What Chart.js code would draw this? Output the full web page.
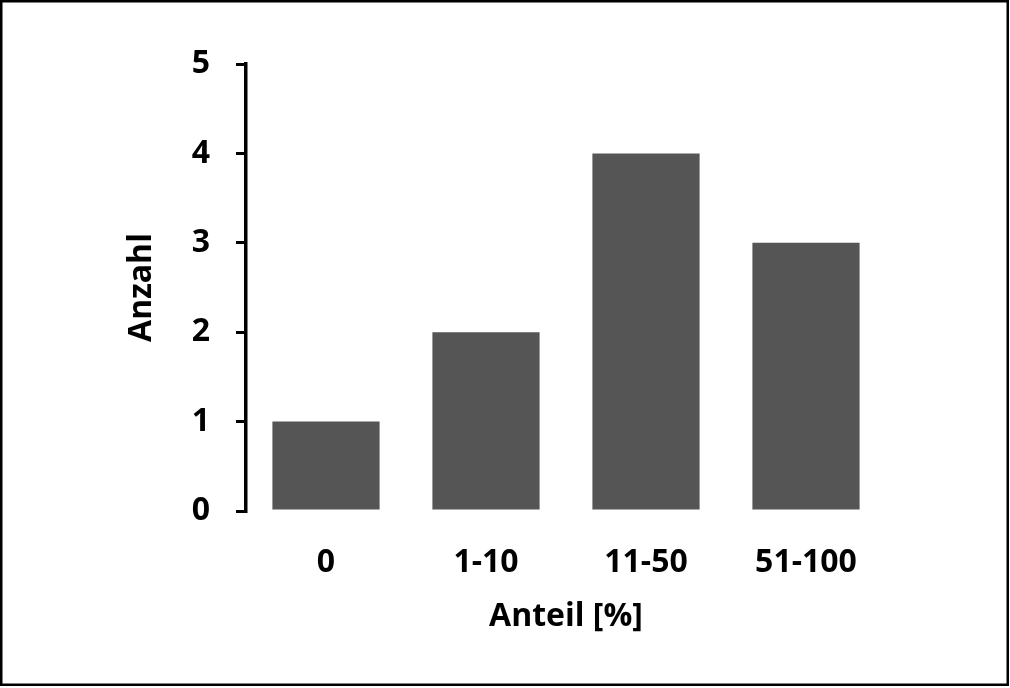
<!DOCTYPE html>
<html>
<head>
<meta charset="utf-8">
<script src="https://cdn.jsdelivr.net/npm/chart.js@4/dist/chart.umd.min.js"></script>
<style>
html,body{margin:0;padding:0;background:#fff;}
canvas{display:block;}
</style>
</head>
<body>
<canvas id="c" width="1010" height="688"></canvas>
<script>
const categories = ["0", "1-10", "11-50", "51-100"];
const counts = [1, 2, 4, 3];
const yTicks = [0, 1, 2, 3, 4, 5];
const xTitle = "Anteil [%]";
const yTitle = "Anzahl";

const FONT = "'Open Sans', sans-serif";

const borderPlugin = {
  id: 'frame',
  beforeDraw(chart) {
    const ctx = chart.ctx;
    ctx.save();
    ctx.fillStyle = '#fff';
    ctx.fillRect(0, 0, chart.width, chart.height);
    ctx.restore();
  },
  afterDraw(chart) {
    const ctx = chart.ctx;
    ctx.save();
    ctx.strokeStyle = '#000';
    ctx.lineWidth = 2.5;
    ctx.strokeRect(1.25, 1.25, 1006.5, 683.5);
    ctx.restore();
  }
};

new Chart(document.getElementById('c'), {
  type: 'bar',
  data: {
    labels: categories,
    datasets: [{
      data: counts,
      backgroundColor: '#555555',
      borderWidth: 0,
      barPercentage: 0.67,
      categoryPercentage: 1.0
    }]
  },
  options: {
    responsive: false,
    animation: false,
    devicePixelRatio: 1,
    layout: { padding: { left: 0, top: 64, right: 124, bottom: 0 } },
    plugins: { legend: { display: false }, tooltip: { enabled: false } },
    scales: {
      x: {
        grid: { display: false, drawTicks: false },
        border: { display: false },
        ticks: { color: '#000', font: { family: FONT, size: 32, weight: 'bold' }, padding: 33, maxRotation: 0 },
        title: { display: true, text: xTitle, color: '#000', font: { family: FONT, size: 32, weight: 'bold' }, padding: { top: 0, bottom: 52 } },
        afterFit(s) { s.height = 177; }
      },
      y: {
        min: 0, max: 5,
        afterBuildTicks(s) { s.ticks = yTicks.map(v => ({ value: v })); },
        grid: { drawOnChartArea: false, drawTicks: true, tickLength: 10, color: '#000', lineWidth: 3 },
        border: { display: true, color: '#000', width: 3.5 },
        ticks: { color: '#000', font: { family: FONT, size: 32, weight: 'bold' }, padding: 26 },
        title: { display: true, text: yTitle, color: '#000', font: { family: FONT, size: 32, weight: 'bold' }, padding: { top: 123, bottom: 0 } },
        afterFit(s) { s.width = 246; }
      }
    }
  },
  plugins: [borderPlugin]
});
</script>
</body>
</html>
